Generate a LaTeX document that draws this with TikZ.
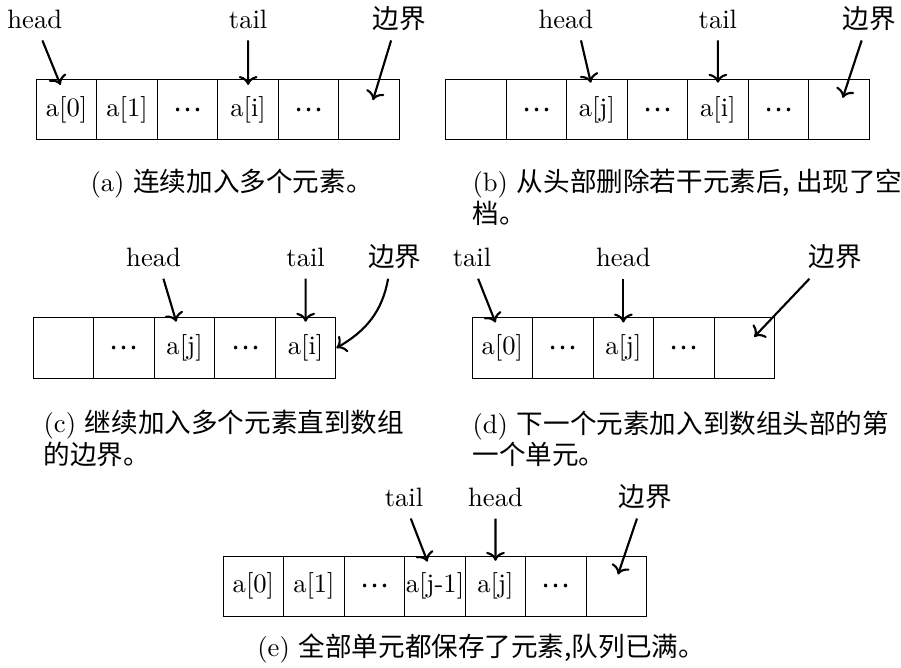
\documentclass[tikz,border=0pt]{standalone}
\usepackage{fontspec}
\newfontfamily\cjk{Noto Sans CJK SC}
\usepackage{tikz}
\usetikzlibrary{arrows.meta}
\tikzset{
  cell/.style={draw,minimum width=0.8cm,minimum height=0.8cm,inner sep=0pt},
  tag/.style={text height=1.6ex,text depth=0.25ex},
  ptr/.style={->,thick},
  subcap/.style={anchor=north west,align=left,inner sep=0pt}
}
\newcommand{\gap}{{\cjk …}}
\begin{document}
\begin{tikzpicture}[x=1cm,y=1cm]
\useasboundingbox (0,0) rectangle (11.91,-8.83);
\foreach \i/\t in {1/a[0],2/a[1],3/\gap,4/a[i],5/\gap,6/{}}{
  \node[cell] (A\i) at (0.08+\i*0.8,-1.45) {\t};}
\node[tag] (Ahead) at (0.46,-0.27) {head};
\node[tag] (Atail) at (3.28,-0.27) {tail};
\node[tag] (Abound) at (5.28,-0.27) {\cjk 边界};
\draw[ptr] ([xshift=0.1cm]Ahead.south) -- ([shift={(-0.08,-0.08)}]A1.north);
\draw[ptr] (Atail) -- ([yshift=-0.08cm]A4.north);
\draw[ptr] ([xshift=-0.11cm]Abound.south) -- ([shift={(0.05,-0.28)}]A6.north);
\node[subcap] (Acap) at (1.19,-2.23) {(a) {\cjk 连续加入多个元素。}};
\foreach \i/\t in {1/{},2/\gap,3/a[j],4/\gap,5/a[i],6/\gap,7/{}}{
  \node[cell] (B\i) at (5.49+\i*0.8,-1.45) {\t};}
\node[tag] (Bhead) at (7.48,-0.27) {head};
\node[tag] (Btail) at (9.49,-0.27) {tail};
\node[tag] (Bbound) at (11.49,-0.27) {\cjk 边界};
\draw[ptr] ([xshift=0.2cm]Bhead.south) -- ([shift={(-0.08,-0.05)}]B3.north);
\draw[ptr] (Btail) -- ([yshift=-0.05cm]B5.north);
\draw[ptr] ([xshift=-0.1cm]Bbound.south) -- ([shift={(0.05,-0.25)}]B7.north);
\node[subcap] (Bcap) at (6.24,-2.23) {(b) {\cjk 从头部删除若干元素后, 出现了空}\\{\cjk 档。}};
\foreach \i/\t in {1/{},2/\gap,3/a[j],4/\gap,5/a[i]}{
  \node[cell] (C\i) at (0.04+\i*0.8,-4.60) {\t};}
\node[tag] (Chead) at (2.03,-3.42) {head};
\node[tag] (Ctail) at (4.04,-3.42) {tail};
\node[tag] (Cbound) at (5.22,-3.42) {\cjk 边界};
\draw[ptr] ([xshift=0.13cm]Chead.south) -- ([shift={(-0.11,-0.06)}]C3.north);
\draw[ptr] (Ctail) -- ([yshift=-0.06cm]C5.north);
\draw[ptr] ([xshift=-0.09cm]Cbound.south) to[out=-100,in=30] (C5.east);
\node[subcap] (Ccap) at (0.57,-5.42) {(c) {\cjk 继续加入多个元素直到数组}\\{\cjk 的边界。}};
\foreach \i/\t in {1/a[0],2/\gap,3/a[j],4/\gap,5/{}}{
  \node[cell] (D\i) at (5.84+\i*0.8,-4.60) {\t};}
\node[tag] (Dtail) at (6.24,-3.42) {tail};
\node[tag] (Dhead) at (8.24,-3.42) {head};
\node[tag] (Dbound) at (11.04,-3.42) {\cjk 边界};
\draw[ptr] ([xshift=0.08cm]Dtail.south) -- ([shift={(-0.09,-0.07)}]D1.north);
\draw[ptr] (Dhead) -- ([yshift=-0.07cm]D3.north);
\draw[ptr] ([xshift=-0.34cm]Dbound.south) -- ([shift={(0.13,-0.26)}]D5.north);
\node[subcap] (Dcap) at (6.24,-5.42) {(d) {\cjk 下一个元素加入到数组头部的第}\\{\cjk 一个单元。}};
\foreach \i/\t in {1/a[0],2/a[1],3/\gap,4/a[j-1],5/a[j],6/\gap,7/{}}{
  \node[cell] (E\i) at (2.55+\i*0.8,-7.75) {\t};}
\node[tag] (Etail) at (5.34,-6.59) {tail};
\node[tag] (Ehead) at (6.55,-6.59) {head};
\node[tag] (Ebound) at (8.53,-6.59) {\cjk 边界};
\draw[ptr] ([xshift=0.09cm]Etail.south) -- ([shift={(-0.10,-0.08)}]E4.north);
\draw[ptr] (Ehead) -- ([yshift=-0.07cm]E5.north);
\draw[ptr] ([xshift=-0.11cm]Ebound.south) -- ([shift={(0.02,-0.25)}]E7.north);
\node[subcap,anchor=north] (Ecap) at (6.36,-8.37) {(e) {\cjk 全部单元都保存了元素,队列已满。}};
\end{tikzpicture}
\end{document}
